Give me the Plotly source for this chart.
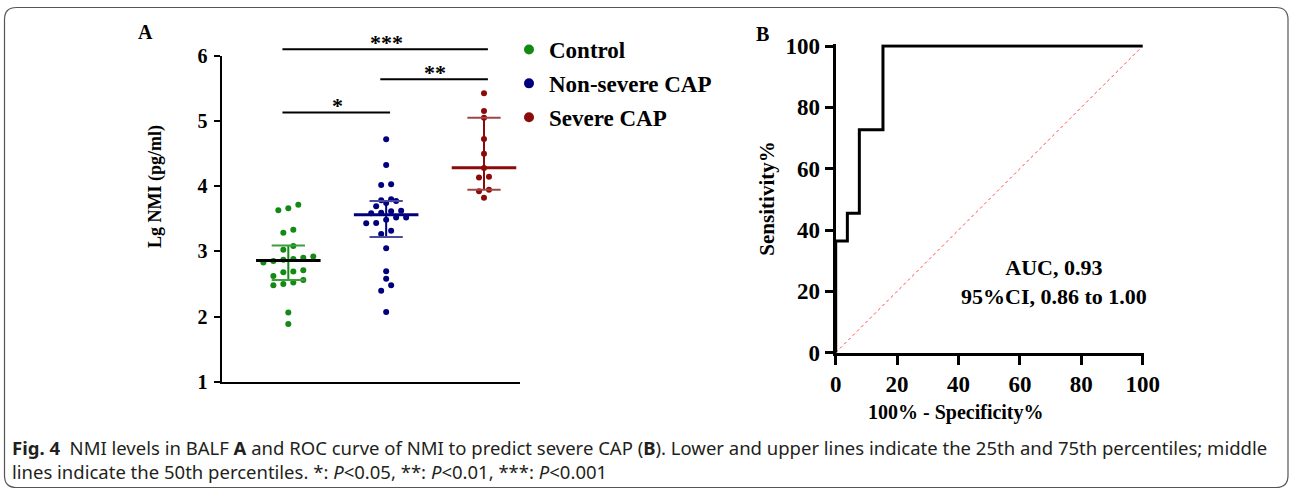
import plotly.graph_objects as go

W, H = 1290, 490
def fx(p):  # pixel -> paper x (layout placement only)
    return p / W
def fy(p):  # pixel -> paper y (layout placement only)
    return 1 - p / H

# ---------------- data ----------------
groups = ["Control", "Non-severe CAP", "Severe CAP"]
control = [3.715, 3.63, 3.66, 3.285, 3.33, 3.08, 3.025, 2.92, 2.90, 2.88, 2.83, 2.87,
           2.85, 2.71, 2.68, 2.69, 2.62, 2.56, 2.50, 2.52, 2.48, 2.06, 1.885]
non_severe = [4.718, 4.324, 4.028, 4.017, 3.771, 3.741, 3.782, 3.80, 3.69, 3.592, 3.623,
              3.613, 3.583, 3.52, 3.52, 3.485, 3.43, 3.434, 3.316, 3.265, 3.046, 2.693,
              2.58, 2.478, 2.396, 2.069]
severe = [5.423, 5.152, 5.049, 4.722, 4.497, 4.278, 4.145, 4.13, 3.945, 3.92, 3.822]
medians = [2.86, 3.56, 4.28]
q1 = [2.56, 3.22, 3.945]
q3 = [3.09, 3.77, 5.05]
sig_pairs = [(1, 2), (2, 3), (1, 3)]
sig_labels = ["*", "**", "***"]
sig_heights = [5.13, 5.64, 6.10]
y_ticks_a = [1, 2, 3, 4, 5, 6]

roc_fpr = [0, 0, 3.8, 3.8, 7.7, 7.7, 15.4, 15.4, 100]
roc_tpr = [0, 36.4, 36.4, 45.5, 45.5, 72.7, 72.7, 100, 100]
ticks_b = [0, 20, 40, 60, 80, 100]
auc_text = "AUC, 0.93<br>95%CI, 0.86 to 1.00"

colors = ["#138a13", "#00007f", "#8b0b0b"]
median_colors = ["#000000", "#00007f", "#8b0b0b"]
cap_colors = ["#3d9e3d", "#4a4aa0", "#a04545"]

SERIF = "Liberation Serif, Times New Roman, serif"
SANS = "Noto Sans, Open Sans, sans-serif"

# ---------------- helpers ----------------
def swarm_offsets(vals, row_tol=0.09, step=0.102):
    order = sorted(range(len(vals)), key=lambda i: vals[i])
    offs = [0.0] * len(vals)
    rows, cur = [], []
    for i in order:
        if cur and vals[i] - vals[cur[0]] > row_tol:
            rows.append(cur)
            cur = []
        cur.append(i)
    if cur:
        rows.append(cur)
    for r in rows:
        n = len(r)
        for k, i in enumerate(r):
            offs[i] = (k - (n - 1) / 2) * step
    return offs

fig = go.Figure()

# ---------------- panel A ----------------
for gi, (name, vals) in enumerate(zip(groups, [control, non_severe, severe])):
    xc = gi + 1
    offs = swarm_offsets(vals)
    fig.add_trace(go.Scatter(
        x=[xc + o for o in offs], y=vals, mode="markers",
        marker=dict(color=colors[gi], size=6), showlegend=False,
        xaxis="x", yaxis="y", hoverinfo="y"))
    fig.add_trace(go.Scatter(x=[xc, xc], y=[q1[gi], q3[gi]], mode="lines",
                             line=dict(color=colors[gi], width=2), showlegend=False,
                             xaxis="x", yaxis="y", hoverinfo="skip"))
    for qv in (q1[gi], q3[gi]):
        fig.add_trace(go.Scatter(x=[xc - 0.17, xc + 0.17], y=[qv, qv], mode="lines",
                                 line=dict(color=cap_colors[gi], width=2), showlegend=False,
                                 xaxis="x", yaxis="y", hoverinfo="skip"))
    fig.add_trace(go.Scatter(x=[xc - 0.33, xc + 0.33], y=[medians[gi], medians[gi]],
                             mode="lines", line=dict(color=median_colors[gi], width=3),
                             showlegend=False, xaxis="x", yaxis="y", hoverinfo="skip"))
    fig.add_trace(go.Scatter(x=[None], y=[None], mode="markers", name=name,
                             marker=dict(color=colors[gi], size=10), legendgroup=name,
                             xaxis="x", yaxis="y"))

for (a, b), lab, hgt in zip(sig_pairs, sig_labels, sig_heights):
    fig.add_trace(go.Scatter(x=[a - 0.06, b + 0.04], y=[hgt, hgt], mode="lines",
                             line=dict(color="black", width=2), showlegend=False,
                             xaxis="x3", yaxis="y3", hoverinfo="skip"))
    fig.add_annotation(x=(a + b) / 2, y=hgt, xref="x3", yref="y3", text=lab,
                       showarrow=False, xanchor="center", yanchor="bottom", yshift=-8,
                       font=dict(family=SERIF, size=22, color="black", weight="bold"))

# ---------------- panel B ----------------
fig.add_trace(go.Scatter(x=[0, 100], y=[0, 100], mode="lines",
                         line=dict(color="#ff4646", width=1, dash="dot"),
                         showlegend=False, xaxis="x2", yaxis="y2", hoverinfo="skip"))
fig.add_trace(go.Scatter(x=roc_fpr, y=roc_tpr, mode="lines",
                         line=dict(color="black", width=3), showlegend=False,
                         xaxis="x2", yaxis="y2"))

# ---------------- axes ----------------
xa_l, xa_r = fx(221.5), fx(520)
ya_b, ya_t = fy(381.7), fy(55.7)
ya_t_ext = fy(39.4)
axA_x_range = [0.317, 3.368]

tickfont_a = dict(family=SERIF, size=20, color="black", weight="bold")
tickfont_b = dict(family=SERIF, size=23, color="black", weight="bold")

fig.update_layout(
    width=W, height=H, margin=dict(l=0, r=0, t=0, b=0, pad=0, autoexpand=False),
    paper_bgcolor="white", plot_bgcolor="rgba(0,0,0,0)",
    xaxis=dict(domain=[xa_l, xa_r], range=axA_x_range, showline=True, linewidth=2,
               linecolor="black", showticklabels=False, ticks="", showgrid=False,
               zeroline=False, anchor="y", automargin=False),
    yaxis=dict(domain=[ya_b, ya_t], range=[1, 6], tickvals=y_ticks_a, showline=True,
               linewidth=2, linecolor="black", ticks="outside", ticklen=6, tickwidth=2,
               tickcolor="black", tickfont=tickfont_a, showgrid=False, zeroline=False,
               anchor="x", ticklabelstandoff=2, automargin=False),
    xaxis3=dict(domain=[xa_l, xa_r], range=axA_x_range, visible=False, anchor="y3"),
    yaxis3=dict(domain=[ya_b, ya_t_ext], range=[1, 6.25], visible=False, anchor="x3"),
    xaxis2=dict(domain=[fx(835.7), fx(1144.2)], range=[0, 100.5], tickvals=ticks_b,
                showline=True, linewidth=3, linecolor="black", ticks="outside",
                ticklen=9, tickwidth=3, tickcolor="black", tickfont=tickfont_b,
                showgrid=False, zeroline=False, anchor="y2", automargin=False),
    yaxis2=dict(domain=[fy(352.7), fy(44.2)], range=[0, 100.6], tickvals=ticks_b,
                showline=True, linewidth=3, linecolor="black", ticks="outside",
                ticklen=8, tickwidth=3, tickcolor="black", tickfont=tickfont_b,
                showgrid=False, zeroline=False, anchor="x2", automargin=False,
                title=dict(text="Sensitivity%", standoff=6,
                           font=dict(family=SERIF, size=21, color="black", weight="bold"))),
    legend=dict(x=fx(509), y=fy(28), xanchor="left", yanchor="top",
                font=dict(family=SERIF, size=23, color="black", weight="bold"),
                bgcolor="rgba(0,0,0,0)", tracegroupgap=1, itemwidth=30),
)

# ---------------- text ----------------
def txt(x, y, s, size, family=SERIF, bold=True, **kw):
    f = dict(family=family, size=size, color="black")
    if bold:
        f["weight"] = "bold"
    fig.add_annotation(x=fx(x), y=fy(y), xref="paper", yref="paper", text=s,
                       showarrow=False, xanchor="center", yanchor="middle", font=f, **kw)

txt(145, 32, "A", 20)
txt(762, 34, "B", 20)
txt(155, 187, "Lg NMI (pg/ml)", 18, textangle=-90)
txt(955.5, 412, "100% - Specificity%", 20)
txt(1054, 282, auc_text, 22, align="center")

cap_font = dict(family=SANS, size=18.5, color="#231f20")
fig.add_annotation(x=fx(10), y=fy(447), xref="paper", yref="paper", xanchor="left",
                   yanchor="middle", showarrow=False, font=cap_font,
                   text="<b>Fig. 4</b>  NMI levels in BALF <b>A</b> and ROC curve of NMI to predict "
                        "severe CAP (<b>B</b>). Lower and upper lines indicate the 25th and 75th "
                        "percentiles; middle")
fig.add_annotation(x=fx(10), y=fy(471), xref="paper", yref="paper", xanchor="left",
                   yanchor="middle", showarrow=False, font=cap_font,
                   text="lines indicate the 50th percentiles. *: <i>P</i>&lt;0.05, **: <i>P</i>&lt;0.01, "
                        "***: <i>P</i>&lt;0.001")

x0, x1, y0, y1 = fx(4.5), fx(1288), fy(7.5), fy(487.5)
rx, ry = 12 / W, 12 / H
path = (f"M {x0 + rx},{y0} L {x1 - rx},{y0} Q {x1},{y0} {x1},{y0 - ry} "
        f"L {x1},{y1 + ry} Q {x1},{y1} {x1 - rx},{y1} L {x0 + rx},{y1} "
        f"Q {x0},{y1} {x0},{y1 + ry} L {x0},{y0 - ry} Q {x0},{y0} {x0 + rx},{y0} Z")
fig.add_shape(type="path", path=path, xref="paper", yref="paper",
              line=dict(color="#555555", width=1.2))

fig.write_html("out.html")
